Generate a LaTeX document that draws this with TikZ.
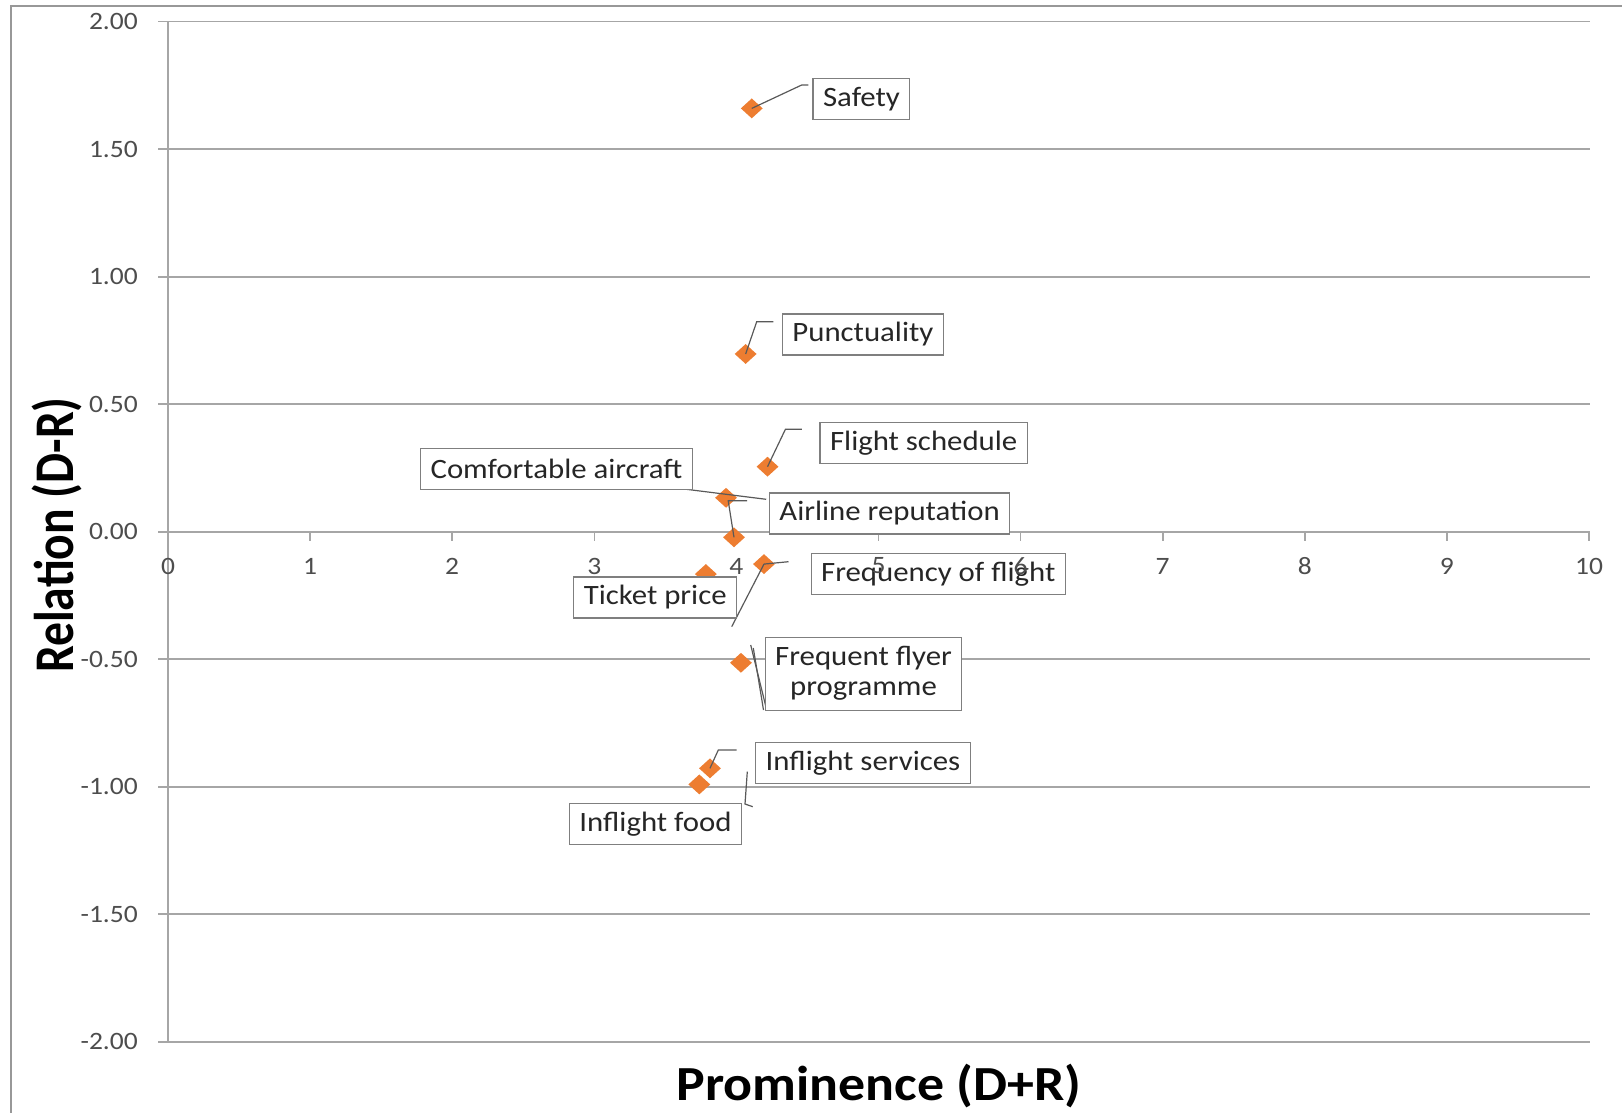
\documentclass[tikz,border=0pt]{standalone}
\usepackage{fontspec}
\setmainfont{Carlito}[FakeStretch=1.1]
\newfontfamily\ytitlefont{Carlito}[FakeStretch=0.85]
\usetikzlibrary{shapes.geometric}
\definecolor{dotorange}{HTML}{ED7D31}
\definecolor{gridgray}{HTML}{A6A6A6}
\definecolor{boxgray}{HTML}{7F7F7F}
\definecolor{leadgray}{HTML}{595959}
\definecolor{ticktext}{HTML}{4D4D4D}
\begin{document}
\begin{tikzpicture}[x=1pt,y=-1pt,
	dot/.style={diamond,fill=dotorange,inner sep=0pt,minimum width=22pt,minimum height=20pt},
	lbl/.style={draw=boxgray,line width=1.3pt,fill=white,text=black!85,inner xsep=10pt,inner ysep=3pt,minimum height=41pt,font=\fontsize{28}{30}\selectfont},
	leader/.style={leadgray,line width=1.2pt},
	grid/.style={gridgray,line width=1.6pt},
	ticklbl/.style={text=ticktext,inner sep=0pt,font=\fontsize{25}{27}\selectfont}]
		\newcommand{\xZero}{168}	% x of prominence 0
		\newcommand{\yZero}{531.7}	% y of relation 0
		\newcommand{\xUnit}{142.1}	% px per unit of prominence
		\newcommand{\yUnit}{255}	% px per unit of relation
		
		\useasboundingbox (0,0) rectangle (1622,1113);
		\draw[boxgray!80,line width=1.6pt] (11,6) rectangle (1660,1140);	% chart frame
		
		% gridlines, y ticks, y axis, x ticks
		\foreach \v in {-2,-1.5,...,2}
			\draw[grid] (158,{\yZero-\yUnit*\v}) -- (1590,{\yZero-\yUnit*\v});
		\draw[grid] (\xZero,21.7) -- (\xZero,1041.7);
		\foreach \i in {0,...,10}
			\draw[grid] ({\xZero+\xUnit*\i},\yZero) -- ({\xZero+\xUnit*\i},540.7);
		
		% data points
		\foreach \px/\py/\nm in {4.108/1.660/safety, 4.065/0.697/punct, 4.219/0.255/sched,
				3.927/0.133/comfort, 3.983/-0.022/reput, 4.194/-0.127/freq, 3.785/-0.166/ticket,
				4.032/-0.514/flyer, 3.814/-0.928/service, 3.739/-0.991/food}
			\node[dot] (\nm) at ({\xZero+\xUnit*\px},{\yZero-\yUnit*\py}) {};
		
		% leader line ends
		\coordinate (safetyEnd) at (808.3,85);
		\coordinate (punctEnd) at (773.3,321.7);
		\coordinate (schedEnd) at (801.9,429.3);
		\coordinate (comfortTail) at (686.3,489.3);
		\coordinate (comfortEnd) at (766.2,499.3);
		\coordinate (reputEnd) at (747,500.7);
		\coordinate (freqEnd) at (788.5,561.7);
		\coordinate (freqTail) at (731.7,626.7);
		\coordinate (flyerA) at (750.7,645);
		\coordinate (flyerB) at (766.7,710);
		\coordinate (flyerC) at (753.3,648);
		\coordinate (flyerD) at (763.5,710);
		\coordinate (serviceEnd) at (736.7,750);
		\coordinate (foodTail) at (747.3,771.7);
		\coordinate (foodEnd) at (752.7,806.7);
		
		% leader lines
		\draw[leader] (safety.center) -- (801.7,85) -- (safetyEnd);
		\draw[leader] (punct.center) -- (756.7,321.7) -- (punctEnd);
		\draw[leader] (sched.center) -- (785.4,429.3) -- (schedEnd);
		\draw[leader] (comfortTail) -- (comfortEnd);
		\draw[leader] (reput.center) -- (728.2,500.7) -- (reputEnd);
		\draw[leader] (freq.center) -- (freqEnd);
		\draw[leader] (freq.center) -- (freqTail);
		\draw[leader] (flyerA) -- (flyerB);
		\draw[leader] (flyerC) -- (flyerD);
		\draw[leader] (service.center) -- (718.3,750) -- (serviceEnd);
		\draw[leader] (foodTail) -- (745,804) -- (foodEnd);
		
		% data labels
		\node[lbl] (safetyLbl) at (861.4,98.7) {Safety};
		\node[lbl] (punctLbl) at (862.9,334.5) {Punctuality};
		\node[lbl] (schedLbl) at (923.7,442.7) {Flight schedule};
		\node[lbl] (comfortLbl) at (556.5,469.2) {Comfortable aircraft};
		\node[lbl] (reputLbl) at (889.6,513.5) {Airline reputation};
		\node[lbl] (freqLbl) at (938.3,573.7) {Frequency of flight};
		\node[lbl] (ticketLbl) at (655.2,597.5) {Ticket price};
		\node[lbl,align=center,minimum height=73pt] (flyerLbl) at (863.5,673.7) {Frequent flyer\\programme};
		\node[lbl] (serviceLbl) at (863,762.7) {Inflight services};
		\node[lbl] (foodLbl) at (655.5,823.7) {Inflight food};
		
		% tick labels
		\foreach \i in {0,...,10}
			\node[ticklbl] (xt\i) at ({\xZero+\xUnit*\i},566) {\i};
		\foreach \v/\t [count=\k] in {2/2.00,1.5/1.50,1/1.00,0.5/0.50,0/0.00,-0.5/-0.50,-1/-1.00,-1.5/-1.50,-2/-2.00}
			\node[ticklbl,anchor=east] (yt\k) at (138,{\yZero-\yUnit*\v}) {\t};
		
		% axis titles
		\node[font=\fontsize{49}{52}\selectfont\bfseries] (xTitle) at (879,1086) {Prominence (D+R)};
		\node[rotate=90,font=\ytitlefont\fontsize{56}{58}\selectfont\bfseries] (yTitle) at (56.7,535) {Relation (D-R)};
\end{tikzpicture}
\end{document}
